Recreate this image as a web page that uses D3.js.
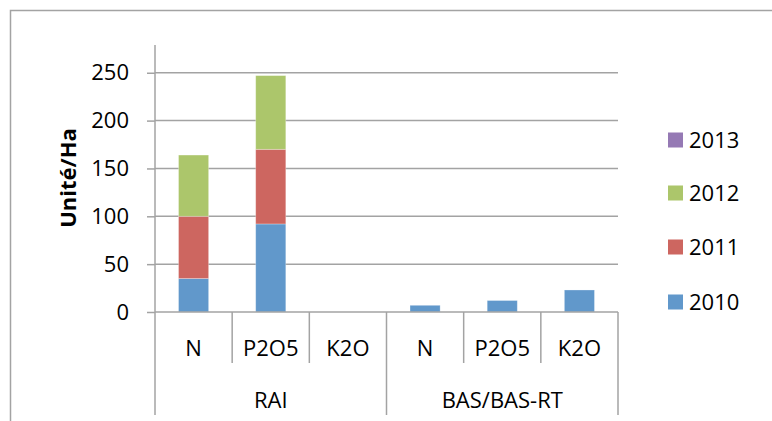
<!DOCTYPE html>
<html>
<head>
<meta charset="utf-8">
<script src="https://cdn.jsdelivr.net/npm/d3@7"></script>
<style>
  body { margin: 0; background: white; }
  text { font-family: 'Open Sans', sans-serif; fill: #000; }
</style>
</head>
<body>
<div id="chart"></div>
<script>
let groups = ['RAI', 'BAS/BAS-RT'];
let nutrients = ['N', 'P2O5', 'K2O'];
let years = ['2010', '2011', '2012', '2013'];
let v2010 = [35, 92, 0, 7, 12, 23];
let v2011 = [65, 78, 0, 0, 0, 0];
let v2012 = [64, 77, 0, 0, 0, 0];
let v2013 = [0, 0, 0, 0, 0, 0];
let yTicks = [0, 50, 100, 150, 200, 250];
let colors = ['#6198cb', '#cd6660', '#acc66b', '#9579b4'];

let width = 772;
let height = 421;
let plotLeft = 155;
let plotRight = 618;
let plotTop = 45;
let plotBottom = 312;
let gray = '#a3a3a3';

let svg = d3
    .select('#chart')
    .append('svg')
    .attr('width', width)
    .attr('height', height)
    .style('background', 'white');

// chart border (right/bottom fall outside the picture)
svg.append('rect')
    .attr('x', 10.5)
    .attr('y', 10.5)
    .attr('width', 800)
    .attr('height', 450)
    .attr('fill', 'none')
    .attr('stroke', gray)
    .attr('stroke-width', 1.5);

let cats = [];
groups.forEach(g => nutrients.forEach(n => cats.push({ key: g + '|' + n, group: g, name: n })));

let table = cats.map((c, i) => ({
    key: c.key,
    '2010': v2010[i],
    '2011': v2011[i],
    '2012': v2012[i],
    '2013': v2013[i]
}));

let xScale = d3
    .scaleBand()
    .domain(cats.map(c => c.key))
    .range([plotLeft, plotRight])
    .paddingInner(0.61)
    .paddingOuter(0.305);

let step = xScale.step();

let yScale = d3
    .scaleLinear()
    .domain([0, 279])
    .range([plotBottom, plotTop]);

// gridlines
svg.append('g')
    .selectAll('line')
    .data(yTicks.slice(1))
    .enter()
    .append('line')
    .attr('x1', plotLeft)
    .attr('x2', plotRight)
    .attr('y1', d => yScale(d))
    .attr('y2', d => yScale(d))
    .attr('stroke', gray)
    .attr('stroke-width', 1.5);

// y axis
let yAxis = d3.axisLeft(yScale).tickValues(yTicks).tickSize(8).tickPadding(18);
let yG = svg.append('g')
    .attr('transform', `translate(${plotLeft},0)`)
    .call(yAxis);
yG.select('.domain').remove();
yG.selectAll('.tick line').attr('stroke', gray).attr('stroke-width', 1.5);
yG.selectAll('.tick text')
    .style('font-family', "'Open Sans', sans-serif")
    .style('font-size', '22px')
    .attr('fill', '#000');
svg.append('line')
    .attr('x1', plotLeft)
    .attr('x2', plotLeft)
    .attr('y1', plotTop)
    .attr('y2', plotBottom)
    .attr('stroke', gray)
    .attr('stroke-width', 1.5);

// bars
let stacked = d3.stack().keys(years)(table);

svg.append('g')
    .selectAll('g')
    .data(stacked)
    .enter()
    .append('g')
    .attr('fill', (d, i) => colors[i])
    .selectAll('rect')
    .data(d => d.filter(s => s[1] - s[0] > 0))
    .enter()
    .append('rect')
    .attr('x', d => xScale(d.data.key))
    .attr('width', xScale.bandwidth())
    .attr('y', d => yScale(d[1]))
    .attr('height', d => yScale(d[0]) - yScale(d[1]))
    .attr('stroke', 'rgba(255,255,255,0.35)')
    .attr('stroke-width', 0.8);

// x axis line
svg.append('line')
    .attr('x1', plotLeft)
    .attr('x2', plotRight)
    .attr('y1', plotBottom)
    .attr('y2', plotBottom)
    .attr('stroke', gray)
    .attr('stroke-width', 1.5);

// category dividers
let bounds = d3.range(cats.length + 1).map(i => plotLeft + i * step);
svg.append('g')
    .selectAll('line')
    .data(bounds)
    .enter()
    .append('line')
    .attr('x1', d => d)
    .attr('x2', d => d)
    .attr('y1', plotBottom)
    .attr('y2', (d, i) => i % nutrients.length === 0 ? 415 : 363)
    .attr('stroke', gray)
    .attr('stroke-width', 1.5);

// sub-category labels
svg.append('g')
    .selectAll('text')
    .data(cats)
    .enter()
    .append('text')
    .attr('x', d => xScale(d.key) + xScale.bandwidth() / 2)
    .attr('y', 356)
    .attr('text-anchor', 'middle')
    .style('font-size', '22px')
    .text(d => d.name);

// group labels
svg.append('g')
    .selectAll('text')
    .data(groups)
    .enter()
    .append('text')
    .attr('x', (d, i) => plotLeft + step * nutrients.length * (i + 0.5))
    .attr('y', 408)
    .attr('text-anchor', 'middle')
    .style('font-size', '22px')
    .text(d => d);

// y title
svg.append('text')
    .attr('transform', `translate(76,178)rotate(-90)`)
    .attr('text-anchor', 'middle')
    .style('font-size', '22px')
    .style('font-weight', 'bold')
    .text('Unité/Ha');

// legend (2013 on top)
let legendY = [302, 247, 193, 140];
let legend = svg.append('g')
    .selectAll('g')
    .data(years)
    .enter()
    .append('g')
    .attr('transform', (d, i) => `translate(668,${legendY[i]})`);
legend.append('rect')
    .attr('x', 0)
    .attr('y', -7.5)
    .attr('width', 15)
    .attr('height', 15)
    .attr('fill', (d, i) => colors[i]);
legend.append('text')
    .attr('x', 21)
    .attr('y', 8)
    .style('font-size', '22px')
    .text(d => d);
</script>
</body>
</html>
